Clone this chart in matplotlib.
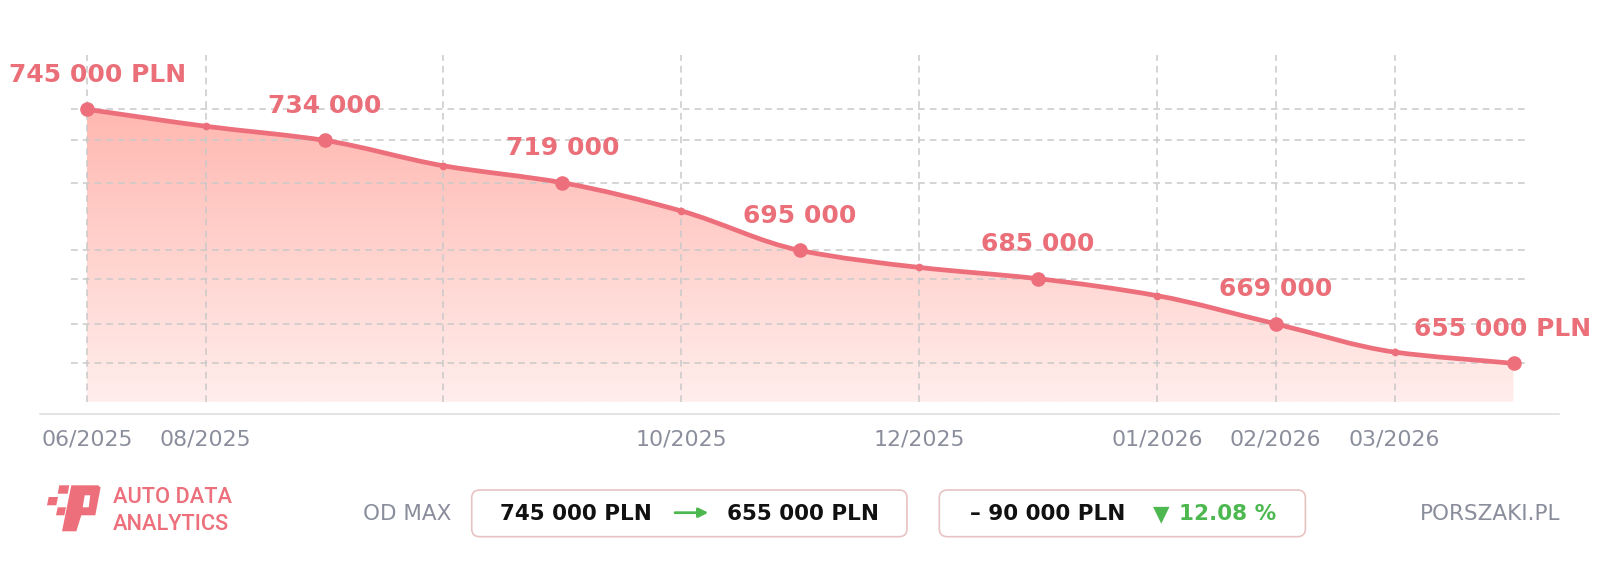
"""
Price history chart - listing price drop with gradient area and summary row.
"""

import numpy as np
import matplotlib
matplotlib.use("Agg")
import matplotlib.pyplot as plt
from matplotlib.path import Path
from matplotlib.patches import PathPatch, FancyBboxPatch, Polygon

# data
PRICES = [745000, 739000, 734000, 725000, 719000, 709000, 695000,
          689000, 685000, 679000, 669000, 659000, 655000]
LABELED = [0, 2, 4, 6, 8, 10, 12]
TICK_POS = [0, 1, 3, 5, 7, 9, 10, 11]
TICK_LABELS = ["06/2025", "08/2025", "", "10/2025", "12/2025",
               "01/2026", "02/2026", "03/2026"]
CURRENCY = "PLN"
BRAND = ["AUTO DATA", "ANALYTICS"]
SITE = "PORSZAKI.PL"
FROM_LABEL = "OD MAX"

# style
W, H, DPI = 1600, 569, 100
PINK = "#ec6f7b"
PINK_TXT = "#ea6f79"
GRID = "#c9c9c9"
GRAY_TXT = "#8a8d9b"
GREEN = "#4cb84f"
BOX_EDGE = "#e8c3c3"
FILL_TOP = np.array([255, 184, 177]) / 255
FILL_BOT = np.array([255, 238, 236]) / 255
FILL_FLOOR = 641400
GRID_TOP = 764200


def fmt(v):
    return f"{v:,}".replace(",", " ")


def smooth_path(xs, ys):
    xs = np.asarray(xs, float)
    ys = np.asarray(ys, float)
    h = np.diff(xs)
    d = np.diff(ys) / h
    m = np.empty_like(ys)
    m[0], m[-1] = d[0], d[-1]
    for k in range(1, len(ys) - 1):
        if d[k - 1] * d[k] <= 0:
            m[k] = 0
        else:
            m[k] = 2 / (1 / d[k - 1] + 1 / d[k])
    verts = [(xs[0], ys[0])]
    codes = [Path.MOVETO]
    for k in range(len(xs) - 1):
        verts += [(xs[k] + h[k] / 3, ys[k] + m[k] * h[k] / 3),
                  (xs[k + 1] - h[k] / 3, ys[k + 1] - m[k + 1] * h[k] / 3),
                  (xs[k + 1], ys[k + 1])]
        codes += [Path.CURVE4] * 3
    return verts, codes


fig = plt.figure(figsize=(W / DPI, H / DPI), dpi=DPI)
fig.patch.set_facecolor("white")

# main axes placed in pixel terms
ax_l, ax_r, ax_t, ax_b = 40, 1559, 40, 414.3
ax = fig.add_axes([ax_l / W, 1 - ax_b / H, (ax_r - ax_l) / W, (ax_b - ax_t) / H])
x0_px, dx_px = 86.7, 118.9
xlim = ((ax_l - x0_px) / dx_px, (ax_r - x0_px) / dx_px)
y0_px, ky = 109.3, 2.823 / 1000
ylim = (745000 - (ax_b - y0_px) / ky, 745000 + (y0_px - ax_t) / ky)

xs = np.arange(len(PRICES))
ys = np.array(PRICES)

verts, codes = smooth_path(xs, ys)
line_path = Path(verts, codes)
fill_path = Path(verts + [(xs[-1], FILL_FLOOR), (xs[0], FILL_FLOOR), (xs[0], ys[0])],
                 codes + [Path.LINETO, Path.LINETO, Path.CLOSEPOLY])

# gradient area
g = np.linspace(0, 1, 256)[:, None]
img = (FILL_TOP[None, :] * (1 - g) + FILL_BOT[None, :] * g)[:, None, :]
im = ax.imshow(img, extent=[xs[0], xs[-1], FILL_FLOOR, ys.max()],
               origin="upper", aspect="auto", zorder=1, interpolation="bilinear")
im.set_clip_path(fill_path, ax.transData)

# grid
ax.hlines([PRICES[i] for i in LABELED], -0.13, 12.1, colors=GRID,
          linestyles=(0, (4.4, 3.3)), lw=1.1, zorder=2)
ax.vlines(TICK_POS, FILL_FLOOR, GRID_TOP, colors=GRID,
          linestyles=(0, (4.4, 3.3)), lw=1.1, zorder=2)

# line + markers
ax.add_patch(PathPatch(line_path, fill=False, edgecolor=PINK, lw=3.4,
                       capstyle="round", joinstyle="round", zorder=4))
small = [i for i in xs if i not in LABELED]
ax.plot(xs[small], ys[small], "o", ms=5.5, color=PINK, mec="none", zorder=5)
ax.plot(xs[LABELED], ys[LABELED], "o", ms=10.5, color=PINK, mec="none", zorder=5)

anns = []
for i in LABELED:
    txt = fmt(PRICES[i])
    if i in (LABELED[0], LABELED[-1]):
        txt += " " + CURRENCY
    a = ax.annotate(txt, (xs[i], ys[i]), xytext=(0, 19.9), textcoords="offset points",
                    ha="center", va="baseline", fontsize=18, fontweight="bold",
                    color=PINK_TXT, zorder=6, annotation_clip=False)
    anns.append(a)

ax.set_xlim(*xlim)
ax.set_ylim(*ylim)
ax.set_xticks(TICK_POS, TICK_LABELS)
ax.set_yticks([])
ax.tick_params(axis="x", length=0, pad=22.6, labelsize=15.8, labelcolor=GRAY_TXT)
for lbl in ax.get_xticklabels():
    lbl.set_va("baseline")
for s in ("left", "right", "top"):
    ax.spines[s].set_visible(False)
ax.spines["bottom"].set_color("#dcdcdc")
ax.spines["bottom"].set_linewidth(1.1)
ax.set_facecolor("none")

# keep the end labels inside the figure
fig.canvas.draw()
for a in anns:
    bb = a.get_window_extent()
    shift = 0
    if bb.x0 < 9:
        shift = 9 - bb.x0
    elif bb.x1 > W - 9:
        shift = (W - 9) - bb.x1
    if shift:
        a.xyann = (shift * 72 / DPI, 19.9)

# bottom summary row, drawn in pixel coordinates
deco = fig.add_axes([0, 0, 1, 1])
deco.set_xlim(0, W)
deco.set_ylim(H, 0)
deco.axis("off")
deco.set_facecolor("none")

# logo: slanted P with a small checker pattern
p_outer = [(71.3, 485.3), (98.0, 485.3), (100.6, 487.5), (95.3, 515.3),
           (81.3, 515.3), (76.3, 531.3), (62.0, 531.3)]
p_hole = [(84.7, 495.3), (90.3, 495.3), (88.7, 507.3), (82.7, 507.3)]
p_verts = p_outer + [p_outer[0]] + p_hole[::-1] + [p_hole[-1]]
p_codes = ([Path.MOVETO] + [Path.LINETO] * (len(p_outer) - 1) + [Path.CLOSEPOLY]
           + [Path.MOVETO] + [Path.LINETO] * (len(p_hole) - 1) + [Path.CLOSEPOLY])
deco.add_patch(PathPatch(Path(p_verts, p_codes), facecolor=PINK, edgecolor="none"))
for sq in ([(59.3, 485.3), (69.3, 485.3), (67.7, 493.7), (57.7, 493.7)],
           [(48.7, 497.0), (58.0, 497.0), (56.3, 505.3), (47.0, 505.3)],
           [(57.7, 507.3), (66.0, 507.3), (64.3, 515.3), (56.0, 515.3)]):
    deco.add_patch(Polygon(sq, closed=True, facecolor=PINK, edgecolor="none"))

for txt, by in zip(BRAND, (503.3, 530)):
    deco.text(112.7, by, txt, family=["Roboto", "DejaVu Sans"], fontsize=15.7,
              fontweight="medium", color=PINK, ha="left", va="baseline")

base_y = 520.5
deco.text(362.7, base_y, FROM_LABEL, fontsize=15.5, color=GRAY_TXT, ha="left", va="baseline")

for bx0, bx1 in ((471.7, 907), (939.3, 1305.4)):
    deco.add_patch(FancyBboxPatch((bx0, 490), bx1 - bx0, 46.7,
                                  boxstyle="round,pad=0,rounding_size=8",
                                  facecolor="white", edgecolor=BOX_EDGE, lw=1.2))

start, end = PRICES[0], PRICES[-1]
deco.text(500, base_y, f"{fmt(start)} {CURRENCY}", fontsize=15.5, fontweight="bold",
          color="#111111", ha="left", va="baseline")
deco.annotate("", xy=(708.3, 512.7), xytext=(675, 512.7),
              arrowprops=dict(arrowstyle="-|>", color=GREEN, lw=2, mutation_scale=14,
                              shrinkA=0, shrinkB=0))
deco.text(727.3, base_y, f"{fmt(end)} {CURRENCY}", fontsize=15.5, fontweight="bold",
          color="#111111", ha="left", va="baseline")

drop = start - end
pct = drop / start * 100
deco.text(970.5, base_y, f"– {fmt(drop)} {CURRENCY}", fontsize=15.5, fontweight="bold",
          color="#111111", ha="left", va="baseline")
deco.text(1153, base_y, "▼", fontsize=15.5, color=GREEN, ha="left", va="baseline")
deco.text(1179, base_y, f"{pct:.2f} %", fontsize=15.5, fontweight="bold",
          color=GREEN, ha="left", va="baseline")

deco.text(1560, base_y, SITE, fontsize=15.5, color=GRAY_TXT, ha="right", va="baseline")

fig.savefig("out.png", dpi=DPI, facecolor="white")
plt.close(fig)
